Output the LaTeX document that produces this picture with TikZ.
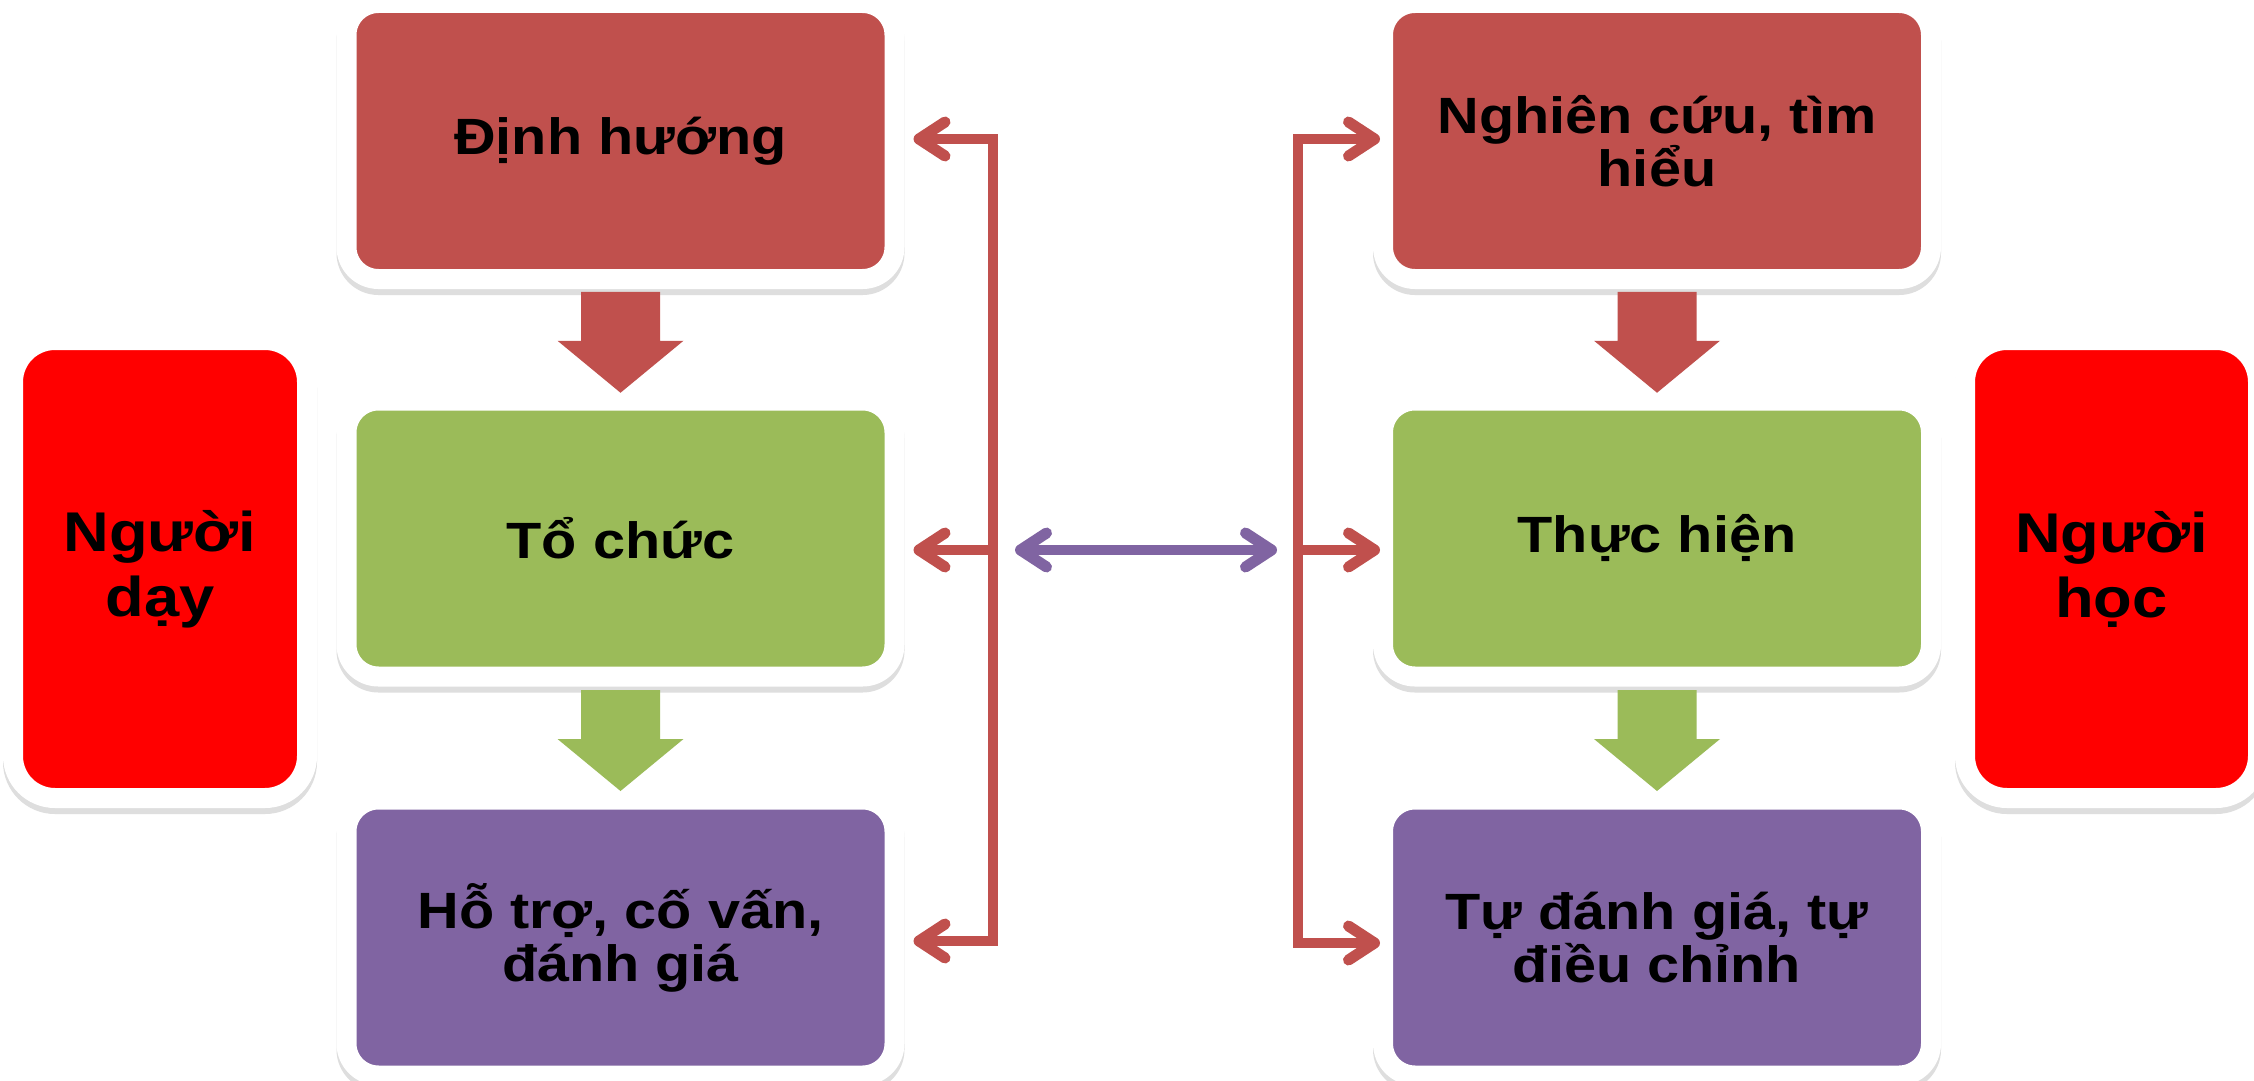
\documentclass[tikz,border=0pt]{standalone}
\usepackage{fontspec}
\newfontfamily\lblfont{Liberation Sans}[FakeStretch=1.13]
\usetikzlibrary{arrows.meta,calc}
\definecolor{boxred}{HTML}{C0504D}
\definecolor{boxgreen}{HTML}{9BBB59}
\definecolor{boxpurple}{HTML}{8064A2}
\definecolor{bigred}{HTML}{FF0000}
\begin{document}
\begin{tikzpicture}[x=1pt,y=-1pt,
  box/.style={rounded corners=32pt, draw=white, line width=20pt, inner sep=0pt, outer sep=0pt,
    minimum width=548pt, minimum height=276pt, align=center, text=black,
    font=\lblfont\bfseries\fontsize{51}{53}\selectfont,
    preaction={draw=black!13, line width=20pt, transform canvas={yshift=-6pt}}},
  rolebox/.style={box, rounded corners=42pt, minimum width=294pt, minimum height=458pt, fill=bigred,
    font=\lblfont\bfseries\fontsize{56}{65}\selectfont},
  redline/.style={draw=boxred, line width=10pt},
  barbtip/.style={arrows={-{Straight Barb[length=26pt,width=34pt,line width=11pt,round]}}},
  purpline/.style={draw=boxpurple, line width=10pt, arrows={{Straight Barb[length=26pt,width=34pt,line width=11pt,round]}-{Straight Barb[length=26pt,width=34pt,line width=11pt,round]}}}
]
\fill[white] (0,0) rectangle (2254,1081);
\useasboundingbox (0,0) rectangle (2254,1081);

% role boxes
\node[rolebox] (pL) at (160,569) {Người\\dạy};
\node[rolebox, minimum width=293pt] (pR) at (2111.5,569) {Người\\học};

% teacher column
\node[box, fill=boxred]    (b1) at (620.5,141)   {Định hướng};
\node[box, fill=boxgreen]  (b2) at (620.5,538.5) {Tổ chức};
\node[box, fill=boxpurple] (b3) at (620.5,937.5) {Hỗ trợ, cố vấn,\\đánh giá};

% learner column
\node[box, fill=boxred]    (b4) at (1657,141)   {Nghiên cứu, tìm\\hiểu};
\node[box, fill=boxgreen]  (b5) at (1657,538.5) {Thực hiện};
\node[box, fill=boxpurple] (b6) at (1657,937.5) {Tự đánh giá, tự\\điều chỉnh};

% block arrows
\coordinate (m12) at ($(b1.south)!0.5!(b2.north)$);
\coordinate (m23) at ($(b2.south)!0.5!(b3.north)$);
\coordinate (m45) at ($(b4.south)!0.5!(b5.north)$);
\coordinate (m56) at ($(b5.south)!0.5!(b6.north)$);
\fill[boxred, shift={(m12)}]   (-39.5,-48) -- (39.5,-48) -- (39.5,1) -- (63,1) -- (0,53) -- (-63,1) -- (-39.5,1) -- cycle;
\fill[boxgreen, shift={(m23)}] (-39.5,-48) -- (39.5,-48) -- (39.5,1) -- (63,1) -- (0,53) -- (-63,1) -- (-39.5,1) -- cycle;
\fill[boxred, shift={(m45)}]   (-39.5,-48) -- (39.5,-48) -- (39.5,1) -- (63,1) -- (0,53) -- (-63,1) -- (-39.5,1) -- cycle;
\fill[boxgreen, shift={(m56)}] (-39.5,-48) -- (39.5,-48) -- (39.5,1) -- (63,1) -- (0,53) -- (-63,1) -- (-39.5,1) -- cycle;

% left bracket
\coordinate (L1) at (993,139);
\coordinate (L2) at (993,550);
\coordinate (L3) at (993,941);
\draw[redline, line cap=rect] (L1) -- (L3);
\draw[redline, barbtip, shorten >=19pt] (L1) -- (L1 -| b1.east);
\draw[redline, barbtip, shorten >=19pt] (L2) -- (L2 -| b2.east);
\draw[redline, barbtip, shorten >=19pt] (L3) -- (L3 -| b3.east);

% right bracket
\coordinate (R1) at (1298,139);
\coordinate (R2) at (1298,550);
\coordinate (R3) at (1298,943);
\draw[redline, line cap=rect] (R1) -- (R3);
\draw[redline, barbtip, shorten >=3pt] (R1) -- (R1 -| b4.west);
\draw[redline, barbtip, shorten >=3pt] (R2) -- (R2 -| b5.west);
\draw[redline, barbtip, shorten >=3pt] (R3) -- (R3 -| b6.west);

% exchange arrow
\draw[purpline, shorten <=22pt, shorten >=21pt] (L2) -- (R2);
\end{tikzpicture}
\end{document}
